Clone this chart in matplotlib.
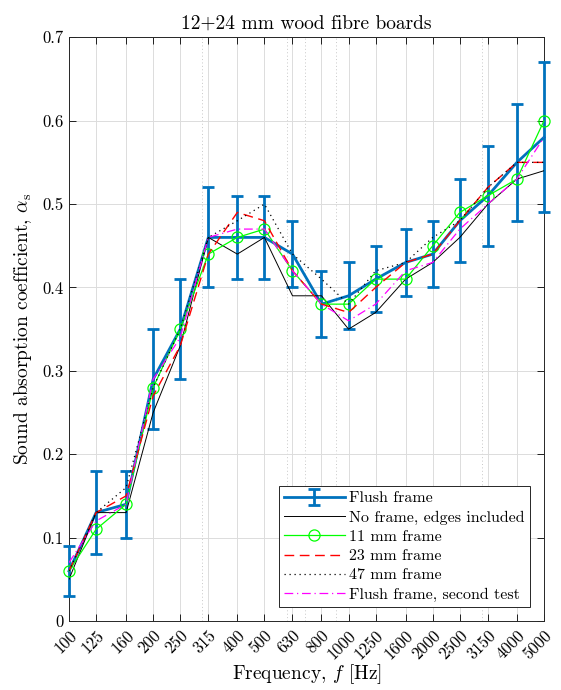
import matplotlib
matplotlib.use("Agg")
import matplotlib.pyplot as plt

plt.rcParams['font.family'] = 'serif'
plt.rcParams['font.serif'] = ['cmr10']
plt.rcParams['mathtext.fontset'] = 'cm'
plt.rcParams['axes.unicode_minus'] = False
plt.rcParams['axes.formatter.use_mathtext'] = True

freqs = [100, 125, 160, 200, 250, 315, 400, 500, 630, 800, 1000, 1250, 1600, 2000, 2500, 3150, 4000, 5000]
freq_labels = [str(f) for f in freqs]

flush = [0.06, 0.13, 0.14, 0.29, 0.35, 0.46, 0.46, 0.46, 0.44, 0.38, 0.39, 0.41, 0.43, 0.44, 0.48, 0.51, 0.55, 0.58]
flush_err = [0.03, 0.05, 0.04, 0.06, 0.06, 0.06, 0.05, 0.05, 0.04, 0.04, 0.04, 0.04, 0.04, 0.04, 0.05, 0.06, 0.07, 0.09]
no_frame = [0.05, 0.13, 0.13, 0.25, 0.33, 0.46, 0.44, 0.46, 0.39, 0.39, 0.35, 0.37, 0.41, 0.43, 0.46, 0.50, 0.53, 0.54]
frame_11 = [0.06, 0.11, 0.14, 0.28, 0.35, 0.44, 0.46, 0.47, 0.42, 0.38, 0.38, 0.41, 0.41, 0.45, 0.49, 0.51, 0.53, 0.60]
frame_23 = [0.06, 0.13, 0.15, 0.27, 0.33, 0.44, 0.49, 0.48, 0.42, 0.38, 0.37, 0.40, 0.43, 0.44, 0.48, 0.52, 0.55, 0.55]
frame_47 = [0.06, 0.13, 0.16, 0.28, 0.35, 0.46, 0.48, 0.50, 0.44, 0.41, 0.38, 0.42, 0.43, 0.46, 0.48, 0.52, 0.55, 0.55]
flush_2 = [0.07, 0.12, 0.14, 0.29, 0.34, 0.46, 0.47, 0.47, 0.42, 0.38, 0.36, 0.38, 0.42, 0.43, 0.47, 0.50, 0.53, 0.58]

minor_grid = [200, 300, 400, 500, 600, 700, 800, 900, 2000, 3000, 4000, 5000]
yticks = [0, 0.1, 0.2, 0.3, 0.4, 0.5, 0.6, 0.7]

fig = plt.figure(figsize=(5.61, 6.90), dpi=100)
ax = fig.add_axes([69/561, 69/690, (544-69)/561, (621-37.3)/690])

h_flush = ax.errorbar(freqs, flush, yerr=flush_err, color='#0072BD', lw=2.0, elinewidth=2.0,
                      capsize=4.5, capthick=2.0, label='Flush frame', zorder=3)
for art in h_flush.lines[1] + h_flush.lines[2] + (h_flush.lines[0],):
    art.set_clip_on(False)
h_no, = ax.plot(freqs, no_frame, color='black', lw=0.7, label='No frame, edges included', zorder=4)
h_11, = ax.plot(freqs, frame_11, color='#00FF00', lw=0.9, marker='o', ms=8, mfc='none',
                mec='#00FF00', mew=0.9, label='11 mm frame', zorder=4, clip_on=False)
h_23, = ax.plot(freqs, frame_23, color='#FF0000', lw=1.0, dashes=(7, 4), label='23 mm frame', zorder=4)
h_47, = ax.plot(freqs, frame_47, color='black', lw=0.9, dashes=(1, 3), label='47 mm frame', zorder=4)
h_f2, = ax.plot(freqs, flush_2, color='#FF00FF', lw=0.9, dashes=(7, 3, 1, 3), label='Flush frame, second test', zorder=4)

ax.set_xscale('log')
ax.set_xlim(100, 5000)
ax.set_ylim(0, 0.7)
ax.set_xticks(freqs)
ax.set_xticklabels(freq_labels, rotation=45, ha='right', rotation_mode='anchor', fontsize=12)
ax.set_xticks(minor_grid, minor=True)
ax.set_yticks(yticks)
ax.set_yticklabels(['0', '0.1', '0.2', '0.3', '0.4', '0.5', '0.6', '0.7'], fontsize=12)
ax.tick_params(which='major', direction='in', top=True, right=True, length=5, width=0.6, pad=4)
ax.tick_params(which='minor', length=0, top=True, right=True)
ax.tick_params(axis='x', which='major', pad=5)

ax.grid(which='major', color='#DCDCDC', lw=0.7, zorder=0)
ax.grid(which='minor', axis='x', color='#C8C8C8', lw=0.7, linestyle=(0, (1, 2.5)), zorder=0)
ax.set_axisbelow(True)
for s in ax.spines.values():
    s.set_linewidth(0.7)
    s.set_color('#262626')

ax.set_title('12+24 mm wood fibre boards', fontsize=14, pad=6)
ax.set_xlabel('Frequency, $f$ [Hz]', fontsize=14, labelpad=0)
ax.set_ylabel(r'Sound absorption coefficient, $\alpha_\mathrm{s}$', fontsize=14, labelpad=6)

leg = ax.legend([h_flush, h_no, h_11, h_23, h_47, h_f2],
                ['Flush frame', 'No frame, edges included', '11 mm frame', '23 mm frame',
                 '47 mm frame', 'Flush frame, second test'],
                loc='lower right', fontsize=11.5, frameon=True, fancybox=False,
                edgecolor='#262626', framealpha=1, borderaxespad=0.9,
                handlelength=3.8, handletextpad=0.3, labelspacing=0.32, borderpad=0.3)
leg.get_frame().set_linewidth(0.7)

fig.savefig('out.png', dpi=100)
